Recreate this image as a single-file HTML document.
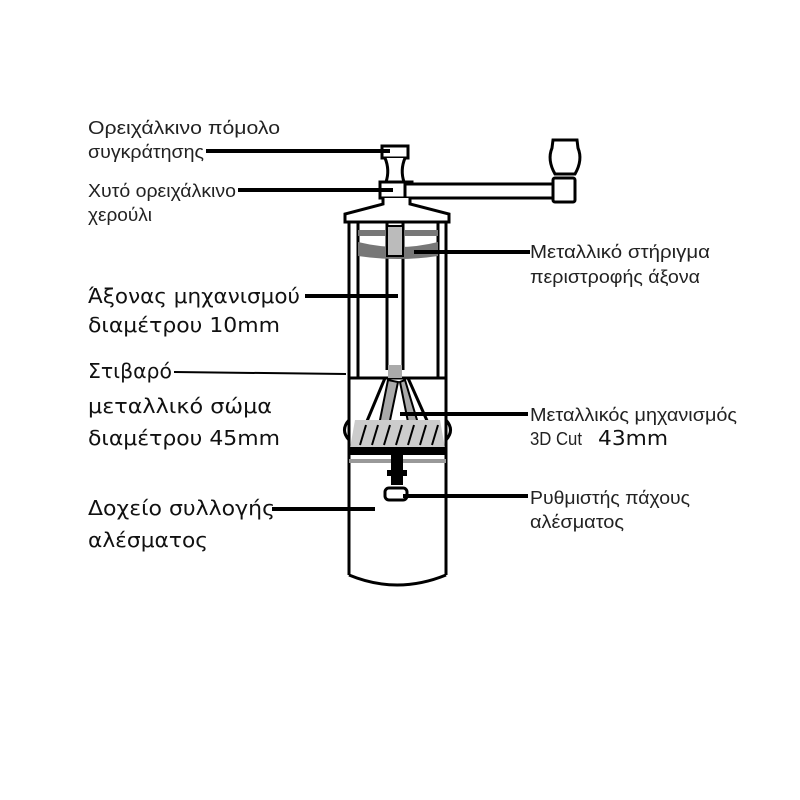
<!DOCTYPE html>
<html><head><meta charset="utf-8"><style>
html,body{margin:0;padding:0;background:#fff;}
svg{display:block}
.s{font-family:"Liberation Sans",sans-serif;font-size:18px;fill:#222;}
.b{font-family:"DejaVu Sans","Liberation Sans",sans-serif;font-size:20px;fill:#111;}
</style></head><body>
<svg width="800" height="800" viewBox="0 0 800 800" xmlns="http://www.w3.org/2000/svg">
<rect width="800" height="800" fill="#fff"/>
<g stroke="#000" fill="none" stroke-width="3">
<rect x="382" y="146" width="26" height="12" fill="#fff"/>
<path d="M385 158 Q390 170 386 182 L404 182 Q400 170 405 158" fill="#fff"/>
<rect x="380" y="182" width="32" height="16" fill="#fff"/>
<rect x="405" y="184" width="160" height="14" fill="#fff"/>
<path d="M555 174 Q547 160 552 148 L553 140 L577 140 L578 148 Q583 160 575 174 Z" fill="#fff"/>
<rect x="553" y="178" width="22" height="24" rx="2" fill="#fff"/>
<path d="M383 198 L383 204 L345 214 L345 222 L449 222 L449 214 L410 204 L410 198" fill="#fff"/>
<line x1="349" y1="222" x2="349" y2="575"/>
<line x1="446" y1="222" x2="446" y2="575"/>
<line x1="358" y1="222" x2="358" y2="378"/>
<line x1="438" y1="222" x2="438" y2="378"/>
<line x1="387" y1="222" x2="387" y2="370"/>
<line x1="403" y1="222" x2="403" y2="370"/>
<path d="M349 575 Q397 595 446 575"/>
<line x1="349" y1="378" x2="446" y2="378"/>
<path d="M357 445 L385 378 M437 443 L408 378"/>
<path d="M349 420 Q340 430 349 440 M446 420 Q455 430 446 440"/>
</g>
<rect x="358" y="230" width="80" height="6" fill="#777"/>
<path d="M358 242 Q398 252 438 242 L438 256 Q398 262 358 256 Z" fill="#777"/>
<rect x="387" y="226" width="16" height="30" fill="#bbb" stroke="#000" stroke-width="2"/>
<rect x="388" y="365" width="14" height="13" fill="#aaa"/>
<path d="M388 380 L378 430 L388 430 L398 382 Z M405 380 L420 430 L410 432 L400 382 Z" fill="#aaa" stroke="#000" stroke-width="2"/>
<path d="M355 420 L440 420 L445 448 L350 448 Z" fill="#ccc"/>
<g stroke="#000" stroke-width="2">
<line x1="360" y1="445" x2="366" y2="425"/><line x1="372" y1="445" x2="378" y2="425"/><line x1="384" y1="445" x2="390" y2="425"/><line x1="396" y1="445" x2="402" y2="425"/><line x1="408" y1="445" x2="414" y2="425"/><line x1="420" y1="445" x2="426" y2="425"/><line x1="432" y1="445" x2="438" y2="425"/>
</g>
<rect x="349" y="447" width="97" height="8" fill="#000"/>
<rect x="349" y="459" width="97" height="4" fill="#999"/>
<rect x="391" y="455" width="12" height="30" fill="#000"/>
<rect x="387" y="470" width="20" height="6" fill="#000"/>
<rect x="385" y="488" width="22" height="12" rx="4" fill="#fff" stroke="#000" stroke-width="3"/>
<g stroke="#000" stroke-width="4">
<line x1="206" y1="151" x2="390" y2="151"/>
<line x1="238" y1="190" x2="393" y2="190"/>
<line x1="414" y1="252" x2="530" y2="252"/>
<line x1="305" y1="296" x2="398" y2="296"/>
<line x1="400" y1="414" x2="528" y2="414"/>
<line x1="403" y1="496" x2="528" y2="496"/>
<line x1="272" y1="509" x2="375" y2="509"/>
</g>
<g stroke="#000" stroke-width="2"><line x1="174" y1="372" x2="346" y2="374"/></g>
<text class="s" x="88" y="134" textLength="192" lengthAdjust="spacingAndGlyphs">Ορειχάλκινο πόμολο</text>
<text class="s" x="88" y="158" textLength="116" lengthAdjust="spacingAndGlyphs">συγκράτησης</text>
<text class="s" x="88" y="197" textLength="148" lengthAdjust="spacingAndGlyphs">Χυτό ορειχάλκινο</text>
<text class="s" x="88" y="221" textLength="64" lengthAdjust="spacingAndGlyphs">χερούλι</text>
<text class="s" x="530" y="258" textLength="180" lengthAdjust="spacingAndGlyphs">Μεταλλικό στήριγμα</text>
<text class="s" x="530" y="283" textLength="170" lengthAdjust="spacingAndGlyphs">περιστροφής άξονα</text>
<text class="b" x="88" y="303" textLength="212" lengthAdjust="spacingAndGlyphs">Άξονας μηχανισμού</text>
<text class="b" x="88" y="332" textLength="192" lengthAdjust="spacingAndGlyphs">διαμέτρου 10mm</text>
<text class="b" x="88" y="378" textLength="84" lengthAdjust="spacingAndGlyphs">Στιβαρό</text>
<text class="b" x="88" y="413" textLength="184" lengthAdjust="spacingAndGlyphs">μεταλλικό σώμα</text>
<text class="b" x="88" y="445" textLength="192" lengthAdjust="spacingAndGlyphs">διαμέτρου 45mm</text>
<text class="s" x="530" y="421" textLength="207" lengthAdjust="spacingAndGlyphs">Μεταλλικός μηχανισμός</text>
<text class="s" x="530" y="445" textLength="52" lengthAdjust="spacingAndGlyphs">3D Cut</text>
<text class="b" x="598" y="445" textLength="70" lengthAdjust="spacingAndGlyphs">43mm</text>
<text class="s" x="530" y="504" textLength="160" lengthAdjust="spacingAndGlyphs">Ρυθμιστής πάχους</text>
<text class="s" x="530" y="528" textLength="94" lengthAdjust="spacingAndGlyphs">αλέσματος</text>
<text class="b" x="88" y="515" textLength="187" lengthAdjust="spacingAndGlyphs">Δοχείο συλλογής</text>
<text class="b" x="88" y="547" textLength="120" lengthAdjust="spacingAndGlyphs">αλέσματος</text>
</svg>
</body></html>
